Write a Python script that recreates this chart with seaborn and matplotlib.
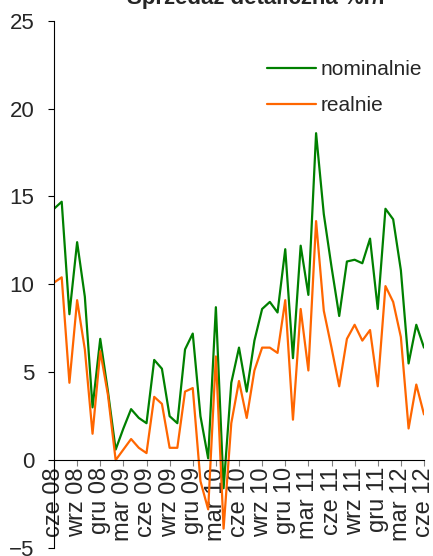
import numpy as np
import pandas as pd
import matplotlib
matplotlib.use("Agg")
import matplotlib.pyplot as plt
import seaborn as sns

# Retail sales y/y, monthly from June 2008 to June 2012
nominalnie = [14.3, 14.7, 8.3, 12.4, 9.3, 3.0, 6.9, 3.9, 0.6, 1.8, 2.9, 2.4, 2.1,
              5.7, 5.2, 2.5, 2.1, 6.3, 7.2, 2.5, 0.1, 8.7, -1.6, 4.4, 6.4, 3.9,
              6.8, 8.6, 9.0, 8.4, 12.0, 5.8, 12.2, 9.4, 18.6, 14.0, 11.0, 8.2,
              11.3, 11.4, 11.2, 12.6, 8.6, 14.3, 13.7, 10.8, 5.5, 7.7, 6.4]
realnie = [10.1, 10.4, 4.4, 9.1, 6.3, 1.5, 6.2, 3.7, 0.0, 0.6, 1.2, 0.7, 0.4,
           3.6, 3.2, 0.7, 0.7, 3.9, 4.1, -1.2, -2.8, 5.9, -3.9, 2.1, 4.5, 2.4,
           5.1, 6.4, 6.4, 6.1, 9.1, 2.3, 8.6, 5.1, 13.6, 8.5, 6.4, 4.2, 6.9,
           7.7, 6.8, 7.4, 4.2, 9.9, 9.0, 7.0, 1.8, 4.3, 2.6]
tick_labels = ["cze 08", "wrz 08", "gru 08", "mar 09", "cze 09", "wrz 09",
               "gru 09", "mar 10", "cze 10", "wrz 10", "gru 10", "mar 11",
               "cze 11", "wrz 11", "gru 11", "mar 12", "cze 12"]
series_names = ["nominalnie", "realnie"]
colors = ["#008000", "#FF6600"]

sns.set_style("ticks")
plt.rcParams["font.family"] = ["Liberation Sans", "DejaVu Sans"]

months = np.arange(len(nominalnie))
df = pd.DataFrame({"month": months, "nominalnie": nominalnie, "realnie": realnie})
long_df = df.melt(id_vars="month", var_name="seria", value_name="wartosc")

W, H = 433, 556
fig = plt.figure(figsize=(W / 100, H / 100), dpi=100)
ax = fig.add_axes([54 / W, 1 - 548 / H, (424 - 54) / W, (548 - 20.7) / H])

sns.lineplot(data=long_df, x="month", y="wartosc", hue="seria",
             hue_order=series_names, palette=colors, linewidth=1.6, ax=ax)

ax.set_xlim(0, len(nominalnie) - 1)
ax.set_ylim(-5, 25)
ax.set_yticks(range(-5, 26, 5))
ax.set_xticks(months[::3])
ax.set_xticklabels(tick_labels)
ax.set_xlabel("")
ax.set_ylabel("")

ax.spines["top"].set_visible(False)
ax.spines["right"].set_visible(False)
ax.spines["bottom"].set_position(("data", 0))
ax.spines["left"].set_color("black")
ax.spines["bottom"].set_color("black")
ax.tick_params(axis="y", labelsize=16, length=4, width=0.8, color="black", pad=10)
ax.tick_params(axis="x", labelsize=17, length=4, width=0.8, color="#808080", pad=1,
               labelrotation=90)
for lbl in ax.get_xticklabels():
    lbl.set_va("top")
    lbl.set_ha("center")

leg = ax.legend(frameon=False, loc="upper left", bbox_to_anchor=(259 / W, 1 - 52 / H),
                bbox_transform=fig.transFigure, fontsize=15, handlelength=2.35,
                handletextpad=0.2, labelspacing=0.8, borderaxespad=0)

fig.text(257 / W, 1 - 4 / H, "Sprzedaż detaliczna %r/r", ha="center", va="baseline",
         fontsize=16, fontweight="bold")

fig.savefig("out.png", dpi=100)
